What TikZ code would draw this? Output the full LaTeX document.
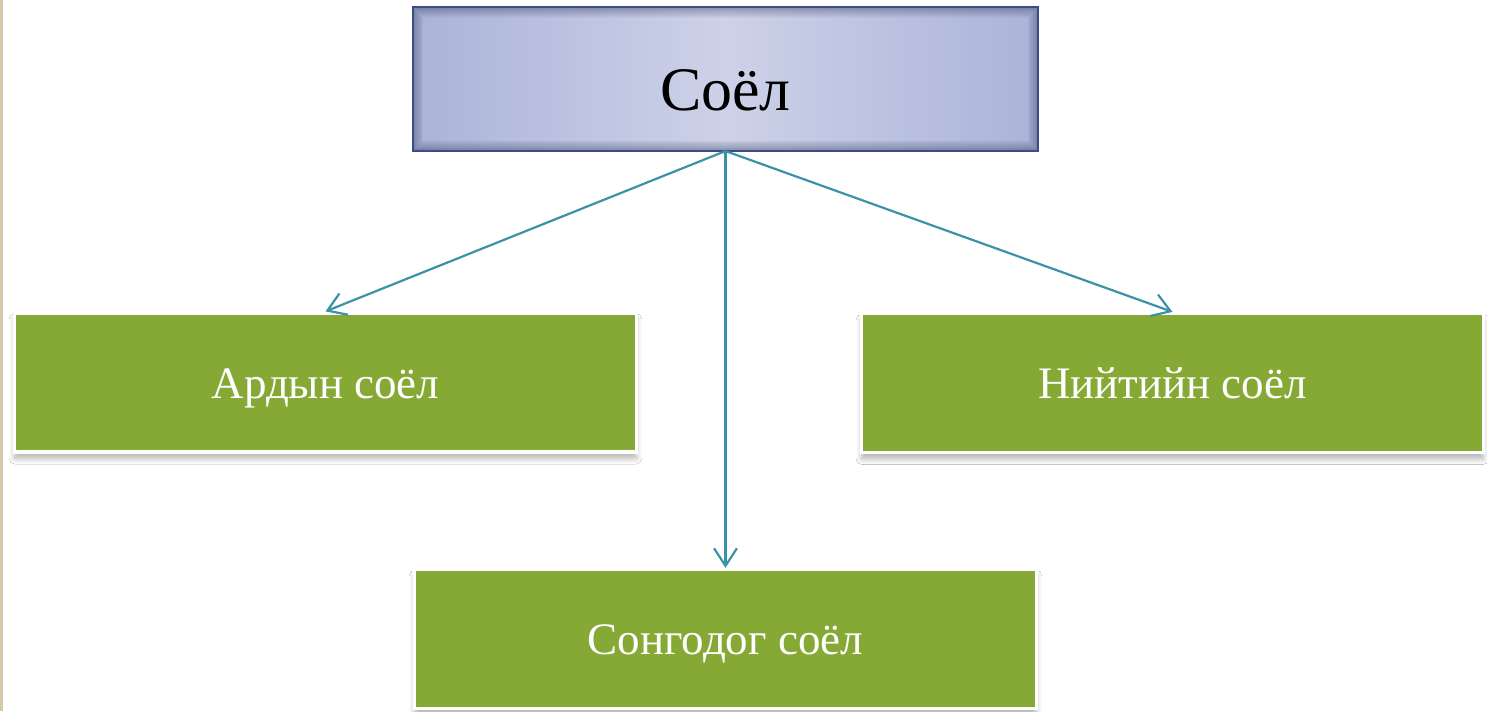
\documentclass[tikz,border=0pt]{standalone}
\usepackage{fontspec}
\setmainfont{Liberation Serif}
\usetikzlibrary{arrows.meta,shadows.blur}
\definecolor{boxgreen}{HTML}{86A936}
\definecolor{arrowteal}{HTML}{3B91A7}
\definecolor{topedge}{HTML}{ABB3D9}
\definecolor{topmid}{HTML}{CDD2E8}
\definecolor{topborder}{HTML}{3E4C86}
\definecolor{strip}{HTML}{D8CAA8}
\tikzset{
  topbox/.style={rectangle, inner sep=0pt, outer sep=0pt,
    minimum width=6.25cm, minimum height=1.44cm,
    left color=topedge, right color=topedge, middle color=topmid,
    font=\fontsize{17.6pt}{21pt}\selectfont, text=black,
    text height=17.8pt, text depth=0pt},
  greenbox/.style={rectangle, inner sep=0pt, fill=boxgreen, draw=white,
    line width=0.9pt, minimum width=6.21cm, minimum height=1.39cm,
    font=\fontsize{12.8pt}{15pt}\selectfont, text=white,
    text height=0.9em, text depth=0pt,
    blur shadow={shadow xshift=0pt, shadow yshift=-1.8pt,
      shadow blur steps=8, shadow opacity=30, shadow blur radius=1.6pt}},
  link/.style={draw=arrowteal, line width=0.62pt,
    -{Straight Barb[length=5pt,width=6.5pt,line width=0.62pt]}}
}
\begin{document}
\begin{tikzpicture}[x=0.01cm,y=-0.01cm]
\useasboundingbox (0,0) rectangle (1487,711);
\fill[white] (0,0) rectangle (1487,711);
\fill[strip] (0,0) rectangle (3,711);

% top box
\node[topbox] (top) at (725.5,79) {Соёл};
\begin{scope}
  \clip (top.north west) rectangle (top.south east);
  \foreach \w in {1,2,...,12}
    \draw[topborder!60!black, opacity=0.035, line width=\w*0.5pt, yshift=0.6pt]
      (top.north west) rectangle (top.south east);
\end{scope}
\draw[topborder, line width=0.45pt] (top.north west) rectangle (top.south east);

% green boxes
\node[greenbox] (ardyn) at (325.5,382.5) {Ардын соёл};
\node[greenbox] (niit) at (1172.5,383) {Нийтийн соёл};
\node[greenbox] (songo) at (725.5,639) {Сонгодог соёл};

% connectors
\draw[link] (top.south) -- (ardyn.north);
\draw[link] (top.south) -- (songo.north);
\draw[link] (top.south) -- (niit.north);
\end{tikzpicture}
\end{document}
